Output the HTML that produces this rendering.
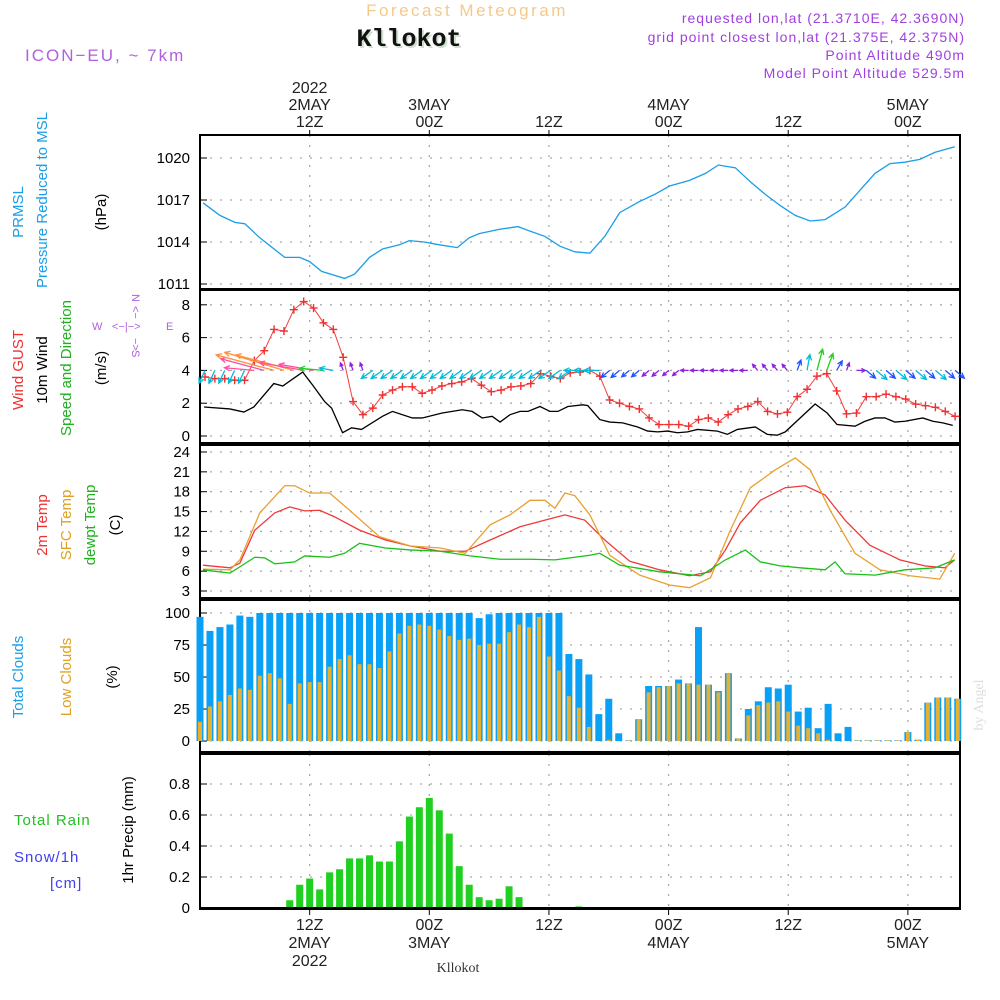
<!DOCTYPE html>
<html><head><meta charset="utf-8"><style>
body{margin:0;background:#fff;width:1000px;height:1000px;overflow:hidden;font-family:"Liberation Sans",sans-serif}
svg{position:absolute;left:0;top:0}
</style></head><body>
<svg id="chart" width="1000" height="1000" viewBox="0 0 1000 1000" xmlns="http://www.w3.org/2000/svg" font-family="Liberation Sans, sans-serif">
<g>
<text x="467" y="16" text-anchor="middle" font-size="17" fill="#f5c98a" letter-spacing="2.5">Forecast Meteogram</text>
<text x="411" y="48" text-anchor="middle" font-size="25" font-weight="bold" style="font-family:'Liberation Mono',monospace" fill="#cfe0cf">Kllokot</text>
<text x="409" y="46" text-anchor="middle" font-size="25" font-weight="bold" style="font-family:'Liberation Mono',monospace" fill="#111">Kllokot</text>
<text x="25" y="61" font-size="17" fill="#b060e0" letter-spacing="2">ICON−EU, ~ 7km</text>
<text x="965" y="23" text-anchor="end" font-size="14" fill="#a040e0" letter-spacing="1">requested lon,lat (21.3710E, 42.3690N)</text>
<text x="965" y="42" text-anchor="end" font-size="14" fill="#a040e0" letter-spacing="1">grid point closest lon,lat (21.375E, 42.375N)</text>
<text x="965" y="60" text-anchor="end" font-size="14" fill="#a040e0" letter-spacing="1">Point Altitude 490m</text>
<text x="965" y="78" text-anchor="end" font-size="14" fill="#a040e0" letter-spacing="1">Model Point Altitude 529.5m</text>
<text x="458" y="972" text-anchor="middle" font-size="14" style="font-family:'Liberation Serif',serif" fill="#333">Kllokot</text>
<text transform="translate(983,705) rotate(-90)" text-anchor="middle" font-size="14" style="font-family:'Liberation Serif',serif" fill="#ddd">by Angel</text>
</g>
<g font-size="15">
<text transform="translate(23,212) rotate(-90)" text-anchor="middle" fill="#1a9ee8">PRMSL</text>
<text transform="translate(47,200) rotate(-90)" text-anchor="middle" fill="#1a9ee8">Pressure Reduced to MSL</text>
<text transform="translate(106,212) rotate(-90)" text-anchor="middle" fill="#000">(hPa)</text>
<text transform="translate(23,370) rotate(-90)" text-anchor="middle" fill="#f03030">Wind GUST</text>
<text transform="translate(47,370) rotate(-90)" text-anchor="middle" fill="#000">10m Wind</text>
<text transform="translate(71,368) rotate(-90)" text-anchor="middle" fill="#20b020">Speed and Direction</text>
<text transform="translate(106,368) rotate(-90)" text-anchor="middle" fill="#000">(m/s)</text>
<g fill="#b060e0" font-size="11">
<text x="92" y="330">W</text><text x="112" y="330">&lt;−|−&gt;</text><text x="166" y="330">E</text>
<text transform="translate(132,294) rotate(90)">N</text>
<text transform="translate(132,306) rotate(90)">&lt;−</text>
<text transform="translate(132,338) rotate(90)">−&gt;</text>
<text transform="translate(132,350) rotate(90)">S</text>
</g>
<text transform="translate(47,525) rotate(-90)" text-anchor="middle" fill="#f03030">2m Temp</text>
<text transform="translate(71,525) rotate(-90)" text-anchor="middle" fill="#e0a020">SFC Temp</text>
<text transform="translate(95,525) rotate(-90)" text-anchor="middle" fill="#20b020">dewpt Temp</text>
<text transform="translate(120,525) rotate(-90)" text-anchor="middle" fill="#000">(C)</text>
<text transform="translate(23,677) rotate(-90)" text-anchor="middle" fill="#1a9ee8">Total Clouds</text>
<text transform="translate(71,677) rotate(-90)" text-anchor="middle" fill="#e0a020">Low Clouds</text>
<text transform="translate(117,677) rotate(-90)" text-anchor="middle" fill="#000">(%)</text>
<text x="14" y="825" fill="#20c020" letter-spacing="1">Total   Rain</text>
<text x="14" y="862" fill="#4040f0" letter-spacing="1">Snow/1h</text>
<text x="50" y="888" fill="#4040f0" letter-spacing="1">[cm]</text>
<text transform="translate(133,830) rotate(-90)" text-anchor="middle" fill="#000">1hr Precip (mm)</text>
</g>
<g id="plot"></g>
</svg>
<script>
const presHours=[1.3,3,4.5,5.5,7,9.5,11,12,13.2,15.5,16.5,18,19.3,21,22,23.5,25,26.8,28,29,31,32.9,34,35.6,37.1,38.6,40.1,41.6,43.1,45.1,46.6,48.1,50.1,51.7,53,54.7,56.2,57.7,59.2,60.7,62.2,63.7,65.7,67.2,68.7,70.2,71.7,73.2,74.7,76.7];
const presVals=[1016.8,1015.9,1015.4,1015.3,1014.3,1012.9,1012.9,1012.6,1011.9,1011.4,1011.7,1012.9,1013.5,1013.8,1014.1,1014,1013.8,1013.6,1014.3,1014.6,1014.9,1015.1,1014.8,1014.4,1013.7,1013.3,1013.2,1014.4,1016.1,1016.9,1017.4,1018,1018.4,1018.9,1019.5,1019.3,1018.3,1017.4,1016.6,1015.9,1015.5,1015.6,1016.5,1017.7,1018.9,1019.6,1019.7,1019.9,1020.4,1020.8];
const windHours=[1.4,4,5.4,6.4,8.4,9.3,11.3,12.3,13.5,14.2,15.3,16.2,17.2,19.3,20.3,22.3,23.3,25.3,27.3,28.3,29.3,30.3,31.1,32.1,33.1,33.9,35.1,36.1,36.9,37.9,39.4,39.9,41.1,42.1,43.4,44.9,45.9,46.9,47.9,48.9,49.9,50.9,52.9,53.9,54.9,56.7,57.9,58.9,59.7,62.7,63.9,64.9,66.7,67.7,68.7,69.7,70.7,71.7,73.5,74.5,75.5,76.5];
const windVals=[1.77,1.65,1.46,1.77,3.2,3.05,3.9,3.1,2.1,1.7,0.2,0.5,0.4,1.2,1.5,1.1,1.1,1.4,1.6,1.5,1.1,1.2,0.85,1.3,1.5,1.5,1.8,1.5,1.5,1.8,1.9,1.85,1.0,0.85,0.8,0.55,0.3,0.25,0.3,0.2,0.25,0.4,0.3,0.1,0.4,0.55,0.1,0.05,0.25,1.95,1.4,0.7,0.6,0.9,1.1,1.1,0.85,0.9,1.1,0.9,0.8,0.65];
const gustVals=[3.6,3.5,3.5,3.4,3.4,4.6,5.2,6.5,6.4,7.7,8.2,7.8,6.9,6.5,4.8,2.1,1.3,1.7,2.5,2.8,3.0,3.0,2.6,2.8,3.05,3.2,3.3,3.5,3.1,2.7,2.8,3.0,3.05,3.2,3.8,3.65,3.5,3.85,3.9,4.0,3.65,2.2,2.0,1.8,1.65,1.1,0.7,0.7,0.7,0.6,1.0,1.1,0.85,1.3,1.65,1.8,2.1,1.5,1.35,1.45,2.4,2.85,3.65,3.8,2.75,1.35,1.4,2.4,2.4,2.55,2.4,2.25,1.95,1.85,1.75,1.5,1.2];
const arrowAng=[115,115,115,115,115,185,195,195,197,195,190,190,185,190,250,250,250,145,145,145,145,145,145,145,145,145,145,145,145,145,145,145,145,145,145,145,145,145,180,180,180,140,140,140,140,140,140,140,140,180,180,180,180,180,180,180,230,230,230,230,290,280,285,290,300,290,0,40,40,40,40,40,40,40,40,40,40];
const arrowLen=[14,14,14,14,14,30,45,60,62,60,45,35,24,14,8,8,8,14,14,14,14,14,14,14,14,14,14,14,14,14,14,14,14,14,14,14,14,14,16,16,16,11,11,10,10,9,9,8,8,8,8,8,8,8,8,8,8,8,8,8,11,16,22,18,11,8,9,12,14,12,14,12,14,12,14,12,12];
const t2Hours=[1.3,4,5,6.5,8.5,10,11.5,13,14.5,17,19.6,22.1,25.1,27.6,30.1,33.1,35.6,37.6,39.6,41.6,44.1,47.1,50.1,52.2,53.7,55.2,57.2,59.7,61.7,63.7,65.7,68.2,71.2,73.7,75.7,76.7];
const t2Vals=[6.9,6.5,7.2,12.2,14.8,15.7,15.1,15.2,14.2,12.2,10.7,9.8,9.0,9.0,10.7,12.7,13.7,14.5,13.7,10.7,7.5,6.2,5.3,5.9,9.2,13.3,16.7,18.6,18.9,17.5,13.7,9.9,7.7,6.8,6.5,7.7];
const sfcHours=[1.3,4,5,7,9.5,10.5,12,14,16,19,22.1,25.1,27.6,30.1,32.1,34.1,35.6,36.6,37.6,38.6,40.1,42.1,45.1,48.1,50.1,52.2,54.2,56.2,58.7,60.7,62.2,64.2,66.7,69.2,72.2,75.2,76.7];
const sfcVals=[6.3,6.2,7.7,14.8,18.9,18.9,17.8,17.8,15.2,11.2,9.8,9.5,8.7,13,14.5,16.7,16.7,15.5,17.8,17.4,14.5,8.4,5.4,3.9,3.5,5,12.2,18.6,21.3,23.1,21.3,15.2,8.7,6.2,5.3,4.8,8.7];
const dewHours=[1.3,4,6.5,7.5,8.5,10.5,11.5,14,15.5,17,19.6,22.1,25.1,28.1,31.1,34.1,36.6,38.6,40.1,41.1,43.1,47.1,51.2,53.7,55.7,57.2,59.2,61.2,63.7,64.7,65.7,68.7,71.7,74.7,76.7];
const dewVals=[6.2,5.7,8.1,8.0,7.1,7.4,8.3,8.1,8.7,10.2,9.5,9.2,9.0,8.3,7.8,7.8,7.7,8.1,8.4,8.7,6.9,5.9,5.3,7.7,9.2,7.4,6.8,6.5,6.2,7.4,5.6,5.4,6.2,6.5,7.7];
const totalClouds=[97,86,89,91,98,97,100,100,100,100,100,100,100,100,100,100,100,100,100,100,100,100,100,100,100,100,100,100,96,99,100,100,100,100,100,100,100,68,64,52,21,33,6,0.5,17,43,43,43,48,45,89,44,39,53,2,25,31,42,41,44,23,26,10,29,6,11,0.5,0.5,0.5,0.5,0.5,7,1,30,34,34,33];
const lowClouds=[15,27,31,36,41,40,51,53,49,29,45,46,46,58,64,67,60,60,57,70,84,90,91,90,87,82,79,80,75,76,76,85,91,89,97,66,55,35,26,11,0,1,0,0.5,17,38,42,43,45,45,44,44,38,53,2,20,28,30,31,23,12,10,6,1,0,0,0.5,0.5,0.5,0.5,0.5,7,1,30,34,34,33];
const precip=[0,0,0,0,0,0,0,0,0,0.05,0.15,0.19,0.12,0.23,0.25,0.32,0.32,0.34,0.30,0.30,0.43,0.59,0.65,0.71,0.63,0.48,0.27,0.15,0.07,0.05,0.06,0.14,0.07,0,0,0,0,0,0.01,0,0,0,0,0,0,0,0,0,0,0,0,0,0,0,0,0,0,0,0,0,0,0,0,0,0,0,0,0,0,0,0,0,0,0,0,0,0];
const presTicks=[1011,1014,1017,1020];
const windTicks=[0,2,4,6,8];
const tempTicks=[3,6,9,12,15,18,21,24];
const cloudTicks=[0,25,50,75,100];
const precipTicks=[0,0.2,0.4,0.6,0.8];
const gridHours=[12,24,36,48,60,72];
const topLabels=[["2022","2MAY","12Z"],["3MAY","00Z"],["12Z"],["4MAY","00Z"],["12Z"],["5MAY","00Z"]];
const botLabels=[["12Z","2MAY","2022"],["00Z","3MAY"],["12Z"],["00Z","4MAY"],["12Z"],["00Z","5MAY"]];

const NS="http://www.w3.org/2000/svg";
const plot=document.getElementById('plot');
function mk(tag,attrs,parent){const e=document.createElementNS(NS,tag);for(const k in attrs)e.setAttribute(k,attrs[k]);(parent||plot).appendChild(e);return e;}
const X=h=>200+(h-1)*9.97;
const XG=i=>205+i*9.87;
const yP=v=>284-(v-1011)*14;
const yW=v=>436-v*16.4;
const yT=v=>591-(v-3)*6.62;
const yC=v=>741-v*1.28;
const yR=v=>908-v*155;
const panels=[[135,289,presTicks,yP,'pressure'],[290,443,windTicks,yW,'wind'],[445,598,tempTicks,yT,'temperature'],[600,752,cloudTicks,yC,'clouds'],[754,909,precipTicks,yR,'precip']];
panels.forEach(([t,b,ticks,fy,nm])=>{
  const g=mk('g',{});
  
  
  ticks.forEach(v=>{
    const y=fy(v);
    const gl=mk('line',{x1:200,x2:960,y1:y,y2:y,stroke:'#aaa','stroke-width':1.3,'stroke-dasharray':'2 8'},g);
    
    
    mk('line',{x1:200,x2:207,y1:y,y2:y,stroke:'#000','stroke-width':1},g);
    const tx=mk('text',{x:190,y:y+5,'text-anchor':'end','font-size':15,fill:'#000'},g);
    tx.textContent=(nm==='precip'&&v!==0)?v.toFixed(1):String(v);
    
    
  });
  gridHours.forEach(h=>{
    const vl=mk('line',{x1:X(h),x2:X(h),y1:t,y2:b,stroke:'#aaa','stroke-width':1.3,'stroke-dasharray':'2 8'},g);
    
    
  });
  const fr=mk('rect',{x:200,y:t,width:760,height:b-t,fill:'none',stroke:'#000','stroke-width':2},g);
  
  
});
function line(hs,vs,fy,col,name,w){
  const p=mk('polyline',{points:hs.map((h,i)=>X(h)+','+fy(vs[i])).join(' '),fill:'none',stroke:col,'stroke-width':w||1.3});
  
  
  return p;
}
line(presHours,presVals,yP,'#1a9ee8','pressure-line');
totalClouds.forEach((v,i)=>{
  const x=X(i+1);
  const r=mk('rect',{x:x-3.5,y:yC(v),width:7,height:yC(0)-yC(v),fill:'#0aa0f5'});
  
  
  const lv=lowClouds[i];
  const r2=mk('rect',{x:x-2,y:yC(lv),width:4,height:yC(0)-yC(lv),fill:'#e8b030'});
  
  
});
precip.forEach((v,i)=>{
  if(v<=0)return;
  const x=X(i+1);
  const r=mk('rect',{x:x-3.5,y:yR(v),width:7,height:yR(0)-yR(v),fill:'#20d020'});
  
  
});
const zl=mk('line',{x1:200,x2:960,y1:yR(0),y2:yR(0),stroke:'#000','stroke-width':2});


line(t2Hours,t2Vals,yT,'#f03838','t2m-line');
line(sfcHours,sfcVals,yT,'#e8a030','sfc-temp-line');
line(dewHours,dewVals,yT,'#18c018','dewpt-line');
line(windHours,windVals,yW,'#000','wind10-line');
const gp=mk('polyline',{points:gustVals.map((v,i)=>XG(i)+','+yW(v)).join(' '),fill:'none',stroke:'#f04040','stroke-width':1});


gustVals.forEach((v,i)=>{
  const x=XG(i),y=yW(v);
  const m=mk('path',{d:`M${x-4} ${y}H${x+4}M${x} ${y-4}V${y+4}`,stroke:'#f03030','stroke-width':1.4});
  
  
});
function acol(l){return l<=9?'#9020e0':l<=12?'#2050ff':l<=17?'#00bcd8':l<=26?'#20d020':l<=50?'#ff50a0':'#ff9040';}
arrowAng.forEach((a,i)=>{
  const x=XG(i),y=yW(4),L=arrowLen[i],r=a*Math.PI/180;
  const ex=x+L*Math.cos(r),ey=y+L*Math.sin(r);
  const hl=Math.min(6,L*0.5);
  const a1=r+Math.PI-0.45,a2=r+Math.PI+0.45;
  const c=acol(L);
  const p=mk('path',{d:`M${x} ${y}L${ex} ${ey}M${ex+hl*Math.cos(a1)} ${ey+hl*Math.sin(a1)}L${ex} ${ey}L${ex+hl*Math.cos(a2)} ${ey+hl*Math.sin(a2)}`,stroke:c,'stroke-width':1.3,fill:'none'});
  
  
});
gridHours.forEach((h,i)=>{
  const x=X(h);
  const tl=topLabels[i];
  tl.forEach((s,j)=>{
    const t=mk('text',{x:x,y:127-(tl.length-1-j)*17,'text-anchor':'middle','font-size':16,fill:'#222'});
    t.textContent=s;
    
    
  });
  mk('line',{x1:x,x2:x,y1:130,y2:135,stroke:'#000'});
  botLabels[i].forEach((s,j)=>{
    const t=mk('text',{x:x,y:930+j*18,'text-anchor':'middle','font-size':16,fill:'#222'});
    t.textContent=s;
    
    
  });
  mk('line',{x1:x,x2:x,y1:909,y2:915,stroke:'#000'});
});
</script>
</body></html>
